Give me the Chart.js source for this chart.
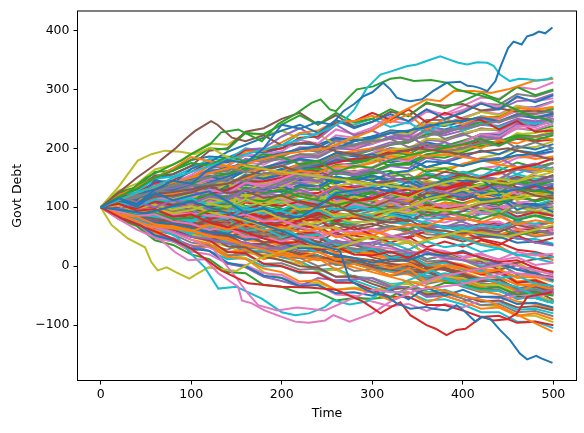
<!DOCTYPE html>
<html>
<head>
<meta charset="utf-8">
<script src="https://cdn.jsdelivr.net/npm/chart.js@4"></script>
<style>
  html, body { margin: 0; padding: 0; background: #fff; }
  canvas { display: block; }
</style>
</head>
<body>
<canvas id="chart" width="584" height="433"></canvas>
<script>
const timeGrid = [0,20,40,60,80,100,120,140,160,180,200,220,240,260,280,300,320,340,360,380,400,420,440,460,480,500];
const xTicks = [0,100,200,300,400,500];
const yTicks = [-100,0,100,200,300,400];
const palette = ['#1f77b4','#ff7f0e','#2ca02c','#d62728','#9467bd','#8c564b','#e377c2','#7f7f7f','#bcbd22','#17becf'];

// body of the fan, one row per path, values at timeGrid
const pathsA = [
  [100,113,101,124,112,120,127,110,90,99,85,83,101,124,129,133,127,144,129,148,145,147,126,130,138,123],
  [100,88,84,71,66,59,70,62,71,60,67,58,64,49,56,52,63,70,68,80,82,74,85,71,78,73],
  [100,118,131,150,162,175,171,186,178,190,185,173,179,160,170,167,180,188,195,201,207,216,205,219,214,222],
  [100,106,94,97,84,88,74,66,58,47,38,42,27,33,20,18,25,14,29,21,23,15,7,10,-3,-10],
  [100,96,108,100,112,106,118,114,130,127,139,150,143,159,155,164,152,141,133,125,119,128,136,130,142,147],
  [100,111,106,122,126,130,136,124,128,116,120,108,99,104,88,80,74,79,63,60,55,62,58,70,64,67],
  [100,92,85,88,76,72,62,66,50,48,42,51,47,60,58,64,52,44,30,26,16,22,10,15,2,6],
  [100,109,120,125,138,144,150,166,160,177,182,190,186,200,205,212,216,202,208,194,200,210,204,218,220,225],
  [100,104,92,98,90,95,106,100,114,104,110,96,100,85,90,80,92,100,114,120,130,139,148,144,158,165],
  [100,108,101,113,110,115,104,110,96,99,93,84,95,81,90,85,75,72,60,55,47,36,30,20,13,6],
  [100,90,84,74,72,65,58,55,45,49,39,30,31,18,14,6,12,10,21,18,26,14,5,-6,-12,-24],
  [100,120,134,150,166,185,178,170,160,166,155,162,158,170,168,175,186,182,196,198,205,200,214,208,219,215],
  [100,95,86,90,80,82,94,100,113,110,122,134,130,146,150,157,162,148,155,145,152,146,140,130,128,124],
  [100,106,98,110,103,108,100,110,96,106,102,110,104,118,111,116,126,120,133,130,138,150,158,166,172,183],
  [100,88,78,70,58,50,46,38,40,30,30,38,32,44,36,40,34,22,25,14,10,4,6,-5,-2,-12],
  [100,110,106,118,120,125,136,140,152,164,170,160,162,148,146,140,144,150,148,160,155,146,138,130,120,115],
  [100,104,95,98,88,90,86,82,88,76,78,66,58,52,40,33,30,24,22,12,13,20,12,24,18,21],
  [100,110,116,128,126,136,140,148,144,158,156,168,175,186,190,198,206,214,220,230,233,240,246,254,258,263],
  [100,108,98,104,96,102,92,84,78,68,64,70,74,82,86,89,96,90,100,94,99,108,112,118,124,129],
  [100,94,88,84,80,78,86,92,100,104,108,100,106,96,100,96,88,80,74,66,61,70,66,76,72,79],
  [100,112,122,130,142,148,160,168,174,186,192,198,204,200,212,217,226,230,236,244,247,252,246,256,252,259],
  [100,88,84,70,68,60,50,48,36,32,25,16,24,12,14,7,-4,4,-8,2,-3,-12,-6,-18,-14,-23],
  [100,110,100,114,104,112,122,116,132,124,130,118,112,104,110,102,92,100,86,94,87,80,90,78,86,79],
  [100,104,94,100,88,92,80,86,70,74,66,78,88,92,110,114,126,120,136,132,142,130,144,128,136,130],
  [100,112,108,122,118,128,118,126,112,124,120,130,118,134,124,130,114,106,88,86,75,64,72,56,62,55],
  [100,88,92,78,76,70,78,66,80,70,75,86,82,98,92,100,112,106,124,122,135,146,140,152,144,155],
  [100,110,104,116,108,118,130,124,142,138,148,160,152,166,160,168,182,178,198,200,210,224,220,238,236,248],
  [100,94,98,86,92,85,70,72,54,56,45,48,34,42,28,33,24,28,12,18,11,-2,4,-14,-10,-24],
  [100,94,108,98,112,105,116,108,122,112,117,108,120,106,118,112,124,116,132,124,130,120,126,112,122,115],
  [100,86,82,66,64,55,66,58,72,60,65,50,54,36,40,29,40,28,42,32,37,24,30,18,22,15]
];
const pathsB = [
  [100,114,112,128,124,134,124,126,112,120,114,104,112,96,106,99,110,96,112,100,104,90,88,70,72,59],
  [100,108,92,106,90,98,114,112,130,132,143,154,144,164,156,165,152,156,138,146,135,148,146,166,162,175],
  [100,112,106,124,114,122,106,110,90,94,80,80,64,66,46,50,36,40,20,22,10,12,-2,6,-10,-8],
  [100,90,92,78,84,75,86,80,98,88,95,110,106,126,124,135,146,140,158,150,160,152,168,156,170,165],
  [100,114,110,128,130,140,152,146,162,156,165,154,160,142,152,145,132,136,116,124,115,126,120,134,128,137],
  [100,82,70,48,42,25,34,14,30,12,20,6,14,-6,4,-5,-16,-4,-26,-14,-25,-36,-26,-44,-32,-40],
  [100,110,100,114,102,110,100,106,90,100,95,108,104,122,114,125,114,124,110,122,117,130,124,144,136,145],
  [100,92,96,84,90,80,90,78,94,82,88,76,80,58,66,53,40,50,32,42,33,44,36,52,40,48],
  [100,116,120,140,138,152,164,160,182,176,187,200,194,214,206,215,226,220,240,230,237,250,244,258,250,257],
  [100,88,90,74,78,67,64,50,58,40,45,56,40,58,44,50,36,40,20,24,12,8,-6,2,-14,-18],
  [100,110,104,118,108,116,128,124,142,134,144,126,134,110,112,104,118,114,134,126,139,128,136,122,132,129],
  [100,104,90,100,86,90,80,82,64,70,60,52,54,38,44,35,48,50,68,66,77,90,86,104,98,107],
  [100,112,108,124,120,130,124,140,126,142,135,150,146,168,166,180,190,184,200,192,198,212,206,226,220,230],
  [100,104,90,102,88,95,78,80,60,64,50,52,36,44,24,30,14,20,2,6,-5,-8,-20,-16,-30,-33],
  [100,112,106,122,116,125,136,128,142,130,135,126,132,114,122,115,126,118,132,120,127,112,116,96,104,92],
  [100,88,90,72,74,62,72,66,82,76,84,100,94,112,106,114,104,112,98,108,104,118,112,128,120,129],
  [100,116,112,132,130,142,128,134,114,122,112,124,116,132,120,127,116,124,106,114,107,116,104,120,110,117],
  [100,90,98,84,92,85,74,82,66,76,70,58,56,36,40,28,16,20,2,8,0,-14,-8,-28,-24,-35],
  [100,110,100,114,104,108,122,118,140,136,148,156,150,164,152,158,170,166,184,178,188,180,184,168,174,163],
  [100,90,92,78,82,74,70,58,64,50,56,64,58,72,62,68,80,76,92,86,93,106,110,124,122,133],
  [100,112,108,126,124,135,150,146,166,162,173,188,186,204,200,215,228,224,244,240,251,262,258,272,268,279],
  [100,92,80,76,62,56,44,46,30,32,24,14,16,2,4,-4,-16,-10,-24,-18,-26,-34,-26,-40,-32,-38],
  [100,108,104,116,110,114,106,112,100,110,106,118,112,128,120,128,112,108,94,96,86,98,90,104,94,98],
  [100,96,104,92,100,94,104,98,112,106,112,100,106,92,102,97,106,98,110,100,105,92,96,80,86,75],
  [100,110,106,122,120,130,140,136,154,148,155,146,152,140,150,145,158,162,178,176,185,196,190,204,198,207],
  [100,96,86,92,78,80,66,70,52,56,45,54,48,64,54,60,50,58,44,54,50,38,34,18,20,10],
  [100,114,118,134,140,150,160,156,172,166,172,182,174,188,178,182,170,174,160,166,157,166,162,176,168,175],
  [100,90,88,72,74,65,76,72,88,84,93,84,92,78,88,83,94,90,104,96,103,94,98,84,92,85],
  [100,108,98,110,100,105,96,100,86,92,85,98,94,112,108,120,130,124,140,134,140,152,148,164,158,168],
  [100,98,90,96,84,88,76,80,62,68,60,48,50,34,38,30,16,16,-2,-2,-15,-24,-22,-38,-34,-45]
];
const pathsC = [
  [100,108,106,118,114,122,136,132,150,146,157,164,160,176,170,177,188,184,202,196,207,218,216,234,232,242],
  [100,90,92,78,80,72,82,76,90,80,84,76,80,64,70,62,68,56,64,54,57,66,62,74,68,75],
  [100,108,100,114,104,110,118,106,120,108,112,104,112,98,110,104,114,106,122,112,119,128,118,130,120,124],
  [100,90,84,70,64,52,48,38,40,26,27,34,24,38,28,32,22,28,12,18,12,0,4,-14,-12,-26],
  [100,112,110,126,128,138,130,136,122,130,126,138,134,152,146,154,144,150,134,142,136,124,120,104,106,96],
  [100,94,96,84,90,84,96,94,110,108,116,124,120,136,128,134,146,144,164,160,174,180,176,188,182,186],
  [100,110,108,122,118,126,118,120,102,106,98,92,88,72,70,60,68,62,74,66,70,62,66,52,60,55],
  [100,98,92,100,88,92,86,92,78,88,82,94,104,114,126,132,126,130,114,120,112,122,118,132,126,134],
  [100,112,116,132,134,145,154,152,168,166,175,186,184,200,198,210,218,214,230,226,235,240,238,248,244,250],
  [100,90,88,74,76,68,56,54,36,38,28,20,16,6,4,-2,-6,-10,-10,-20,-17,-26,-24,-38,-34,-42],
  [100,108,106,116,110,118,112,120,110,118,113,122,116,126,118,125,114,116,100,104,95,104,96,108,98,103],
  [100,92,94,82,86,78,88,84,96,88,93,84,92,80,90,85,98,100,116,114,123,134,132,148,144,153],
  [100,110,112,124,124,132,142,140,154,152,160,150,152,136,142,135,142,134,146,136,140,128,130,114,120,112],
  [100,90,86,70,68,58,50,48,34,36,30,20,18,2,4,-5,-8,-6,-18,-12,-17,-26,-24,-40,-36,-47],
  [100,108,104,116,108,112,126,132,146,150,157,166,168,180,178,185,176,182,168,176,170,182,180,196,192,200],
  [100,94,96,84,88,82,80,72,78,68,72,80,76,90,84,87,76,72,58,60,52,60,54,62,52,57],
  [100,110,108,122,120,128,136,132,142,138,143,156,158,172,174,181,192,190,206,204,213,222,220,234,230,238],
  [100,106,96,108,96,98,92,94,80,84,76,70,64,54,52,46,50,48,60,54,58,46,40,28,24,16],
  [100,112,114,128,130,140,134,142,130,140,135,142,134,146,136,140,148,144,158,152,160,152,160,146,154,150],
  [100,92,90,78,78,70,78,74,86,78,82,92,90,104,98,107,100,106,94,102,99,108,104,116,112,121],
  [100,108,104,116,110,115,104,102,86,88,77,76,66,66,56,57,66,64,78,74,82,74,76,62,68,64],
  [100,84,70,52,42,30,36,28,40,30,35,26,26,10,14,7,-2,-4,-16,-14,-23,-30,-30,-42,-40,-48],
  [100,110,106,120,114,120,130,128,144,140,148,160,164,178,180,188,198,200,216,214,226,232,232,246,242,251],
  [100,96,98,88,92,88,98,100,112,108,118,112,112,98,102,96,92,88,80,84,78,88,92,102,104,113],
  [100,106,100,110,102,108,104,100,92,96,90,96,92,100,94,98,90,84,70,68,58,54,50,40,42,36],
  [100,92,90,80,80,75,64,62,48,48,37,36,28,30,20,22,14,10,2,0,-6,-14,-20,-30,-36,-46],
  [100,112,110,124,124,135,140,138,148,142,147,140,136,122,122,115,124,120,132,128,133,140,136,146,140,145],
  [100,98,94,96,88,90,98,96,108,104,112,122,124,136,134,140,148,146,156,150,155,148,146,134,132,125],
  [100,108,108,120,116,125,138,136,152,150,161,170,168,182,180,189,200,198,214,212,225,232,232,246,244,255],
  [100,90,86,74,72,62,58,50,52,40,42,34,28,18,10,2,0,-8,-4,-16,-13,-22,-26,-38,-38,-48]
];
const pathsD = [
  [100,106,98,108,98,103,110,104,114,106,111,104,108,96,102,99,94,96,84,90,84,94,100,108,110,119],
  [100,94,96,84,88,80,82,72,80,70,72,80,78,90,86,94,98,94,104,98,104,98,100,90,94,86],
  [100,110,116,128,132,142,150,148,160,156,162,158,156,146,150,147,156,160,168,166,172,184,190,200,202,212],
  [100,90,80,70,62,54,46,42,30,30,24,16,16,4,8,2,-8,-10,-22,-22,-33,-40,-42,-54,-54,-63],
  [100,108,108,118,112,118,112,108,100,98,93,102,104,118,116,125,118,114,104,104,97,104,100,108,102,107],
  [100,104,96,102,92,94,106,110,122,124,132,128,130,120,126,122,130,130,142,138,144,154,156,168,166,176],
  [100,108,112,122,122,130,140,140,154,154,162,172,174,188,188,197,206,210,224,226,237,244,246,258,258,267],
  [100,92,86,76,72,65,54,52,38,38,30,22,18,8,6,0,-8,-10,-20,-22,-30,-38,-42,-52,-54,-62],
  [100,104,100,110,104,110,118,114,126,122,128,136,136,150,146,153,148,146,136,138,133,132,126,128,120,121],
  [100,94,92,82,82,76,74,66,68,60,64,70,64,74,68,72,64,60,48,50,42,50,50,60,56,62],
  [100,110,112,126,126,138,148,150,166,166,178,186,188,200,200,208,216,218,230,230,236,244,244,254,254,258],
  [100,90,86,74,70,60,52,48,36,36,30,22,18,6,6,0,-6,-8,-18,-18,-25,-32,-36,-50,-50,-60],
  [100,106,104,114,108,114,106,100,88,90,84,84,78,82,74,76,84,86,98,98,106,112,114,124,122,128],
  [100,98,92,96,88,90,98,100,110,106,110,100,98,86,86,78,76,70,72,64,66,58,56,46,46,38],
  [100,118,130,148,156,170,176,176,188,184,190,200,202,216,212,220,226,226,236,232,240,250,254,268,270,280],
  [100,92,88,78,78,70,60,54,44,42,35,26,18,10,4,-3,-10,-14,-24,-26,-33,-42,-48,-60,-64,-73],
  [100,108,108,118,116,124,132,128,138,134,139,148,146,158,154,161,172,172,186,184,193,204,206,220,220,228],
  [100,96,96,88,90,86,90,86,94,88,91,84,86,76,82,79,84,78,86,80,81,76,72,64,62,56],
  [100,104,98,108,100,105,100,98,90,96,95,104,104,114,110,115,122,118,128,122,125,132,130,140,134,140],
  [100,94,88,84,78,75,68,64,56,58,55,46,42,32,30,25,14,8,-2,-6,-15,-22,-26,-36,-38,-45],
  [100,112,110,126,124,132,142,140,154,148,152,168,166,184,180,192,206,210,226,226,237,248,250,264,260,267],
  [100,86,84,66,66,55,42,40,24,24,15,14,0,6,-8,-5,-16,-12,-30,-24,-35,-44,-40,-56,-50,-60],
  [100,108,104,116,112,118,130,124,140,134,143,136,142,126,134,128,120,116,104,106,98,104,94,102,90,93],
  [100,96,100,88,96,92,84,86,74,82,77,90,88,106,104,112,122,120,136,134,142,150,144,156,148,152],
  [100,110,108,122,122,128,140,138,156,152,163,172,170,184,182,191,200,196,210,204,211,224,222,240,238,246],
  [100,90,90,76,80,72,62,64,48,52,44,38,36,22,28,19,12,16,-2,6,-1,-12,-6,-26,-22,-35],
  [100,110,104,114,106,110,120,114,126,116,120,110,116,102,112,110,100,110,98,108,105,116,108,122,110,117],
  [100,90,96,82,92,85,98,96,110,102,110,120,114,130,120,125,112,116,98,106,100,92,94,80,86,80],
  [100,114,116,132,130,140,152,150,166,162,170,180,172,186,176,180,196,198,216,214,222,234,230,246,240,247],
  [100,90,88,74,76,68,64,56,62,48,53,42,40,24,26,15,8,10,-8,-4,-15,-26,-24,-44,-42,-57]
];
const pathsE = [
  [100,108,98,110,98,105,118,114,130,124,130,144,142,160,156,165,180,182,202,200,210,224,226,244,242,250],
  [100,104,92,104,90,95,88,84,72,74,65,58,52,40,38,30,22,22,8,10,0,-8,-12,-28,-26,-40],
  [100,110,112,126,118,125,122,112,118,106,110,108,100,110,100,105,98,100,86,92,85,94,82,94,84,90],
  [100,92,94,82,86,80,86,80,92,84,85,94,88,100,92,97,108,110,122,120,125,134,130,142,136,140],
  [100,120,134,150,166,180,186,184,196,192,200,208,206,218,214,220,230,228,240,238,245,254,252,264,260,267],
  [100,86,72,56,46,35,34,24,28,18,20,16,10,14,6,10,2,4,-8,-4,-10,-20,-18,-32,-30,-40],
  [100,108,104,116,108,112,106,98,100,90,94,104,98,110,100,104,114,112,124,116,122,114,110,104,104,100],
  [100,94,94,84,88,82,90,86,98,92,97,90,90,78,82,77,74,72,64,68,65,72,68,78,70,75],
  [100,108,106,118,114,120,134,136,152,152,162,174,176,192,192,200,210,210,224,222,230,240,238,250,246,250],
  [100,92,92,80,80,72,70,64,68,58,62,52,48,34,36,27,16,12,-2,-6,-18,-24,-26,-38,-38,-46],
  [100,106,100,110,102,108,114,110,120,114,118,126,124,136,132,138,146,142,152,148,153,166,170,184,186,195],
  [100,98,90,96,86,88,82,76,76,66,68,74,70,82,74,78,68,64,54,52,46,52,48,58,50,54],
  [100,110,112,126,126,136,142,138,150,144,146,156,152,164,158,161,172,174,188,188,196,206,210,224,226,234],
  [100,92,86,76,72,64,66,58,66,56,59,68,64,78,72,79,86,84,94,88,94,90,94,84,90,86],
  [100,110,108,120,116,122,134,134,148,144,152,144,144,130,136,130,138,134,144,138,142,148,142,150,144,147],
  [100,98,92,98,88,90,80,72,64,56,48,44,36,34,24,23,16,16,4,8,3,-6,-6,-20,-18,-27],
  [100,108,106,116,110,115,124,124,134,130,135,144,142,152,146,150,146,148,138,144,140,136,138,128,134,130],
  [100,104,96,104,94,95,104,98,110,102,107,102,110,100,108,105,98,100,86,92,83,94,96,108,104,111],
  [100,110,112,126,126,132,146,148,164,164,172,184,186,200,200,207,220,224,240,242,252,262,266,280,282,292],
  [100,94,94,84,86,80,70,64,52,48,40,34,26,20,14,10,4,-4,-10,-16,-20,-30,-34,-48,-50,-60],
  [100,114,112,132,130,142,158,156,176,172,187,202,200,222,218,232,246,242,262,258,272,286,284,304,300,312],
  [100,110,106,124,118,130,146,144,164,164,178,190,190,206,202,213,230,228,248,248,263,276,274,292,288,298],
  [100,88,84,66,64,50,42,34,22,20,10,4,-8,-6,-20,-20,-32,-30,-46,-44,-55,-66,-68,-84,-84,-95],
  [100,92,82,74,64,60,48,44,26,26,15,8,-6,-4,-18,-20,-30,-28,-44,-40,-50,-60,-60,-74,-72,-80]
];
// paths along the upper and lower edges of the fan
const pathsF = [
  [100,118,112,146,140,165,176,194,206,218,230,240,226,248,234,245,258,246,266,250,260,276,266,288,278,290],
  [100,114,118,136,140,150,170,170,194,196,210,226,230,246,246,255,244,258,232,250,240,254,252,268,266,270],
  [100,126,134,160,162,180,200,198,226,224,240,256,240,260,244,250,266,254,278,268,280,294,282,304,290,300],
  [100,116,124,142,146,160,176,178,196,196,200,218,220,244,246,260,248,266,244,260,250,248,232,246,228,230],
  [100,110,116,130,132,140,166,170,198,200,220,234,216,240,222,230,216,222,202,210,200,220,216,242,236,250],
  [100,124,132,154,156,170,196,200,228,234,250,260,240,256,236,245,262,256,276,272,275,264,268,262,264,260],
  [100,118,116,144,142,155,172,170,188,190,195,214,208,232,224,235,254,246,266,256,265,278,270,286,280,285],
  [100,112,118,134,136,145,162,162,178,180,185,200,194,212,206,215,228,210,234,216,225,212,218,200,210,200],
  [100,128,140,164,172,190,208,206,226,222,230,216,224,206,220,210,228,224,244,240,250,262,256,272,264,270],
  [100,120,126,148,152,165,182,180,200,196,205,224,224,244,240,250,236,244,226,242,230,242,236,246,242,245],
  [100,82,74,52,44,30,26,6,0,-16,-20,-34,-32,-46,-44,-50,-40,-56,-36,-50,-40,-52,-52,-64,-62,-70],
  [100,84,82,60,58,45,38,16,12,-4,-10,-26,-24,-40,-38,-45,-58,-44,-62,-50,-60,-72,-70,-84,-80,-90],
  [100,80,68,44,36,20,12,-10,-12,-32,-35,-46,-44,-58,-54,-55,-52,-36,-40,-28,-30,-38,-36,-48,-44,-50],
  [100,88,84,64,62,50,44,24,22,4,0,-10,-12,-28,-28,-40,-52,-52,-66,-66,-75,-86,-84,-96,-94,-100],
  [100,84,74,52,48,35,26,4,-2,-18,-25,-34,-20,-24,-22,-20,-34,-36,-52,-50,-60,-52,-54,-42,-46,-40],
  [100,90,86,72,70,60,52,34,32,16,10,0,-2,-18,-18,-30,-40,-36,-48,-44,-50,-60,-58,-70,-68,-75],
  [100,84,72,48,42,25,20,4,2,-12,-15,-30,-32,-48,-50,-60,-68,-64,-76,-64,-70,-58,-60,-48,-52,-45],
  [100,86,78,60,54,40,36,18,20,4,5,-6,-4,-18,-16,-25,-36,-36,-50,-46,-55,-66,-64,-78,-76,-85],
  [100,88,84,68,66,55,44,20,14,-10,-20,-30,-28,-40,-36,-40,-38,-26,-28,-18,-20,-32,-32,-48,-48,-60],
  [100,82,76,52,46,30,26,12,14,0,0,-12,-10,-26,-24,-35,-44,-44,-58,-56,-65,-78,-78,-94,-94,-105],
  [100,108,116,122,130,130,142,152,162,168,175,182,178,192,186,190,182,180,168,176,170,178,182,188,190,195],
  [100,112,110,126,122,125,136,140,150,156,160,174,178,190,196,200,196,192,186,190,185,180,172,168,164,160],
  [100,114,120,132,134,140,152,156,166,164,170,162,166,156,162,160,172,176,190,194,200,208,212,222,220,225],
  [100,106,102,112,108,110,122,130,142,144,150,160,168,176,182,185,194,196,204,200,205,212,208,216,212,215],
  [100,92,84,76,66,60,54,44,40,32,30,36,34,42,38,40,50,56,64,68,70,62,54,48,40,35],
  [100,94,84,82,74,70,58,50,36,30,20,18,12,16,8,10,4,0,-6,-4,-10,-4,2,6,12,15]
];

// the paths that stand out, read at their own time points
const blueTopT = [0,20,40,60,80,100,120,140,160,180,200,220,240,255,268,280,290,300,312,320,327,335,342,355,367,382,397,405,412,419,427,436,441,450,456,465,471,478,484,491,499];
const blueTopV = [100,115,105,130,145,140,165,180,175,200,240,233,245,240,263,275,288,295,311,300,286,282,280,283,297,311,313,306,305,302,297,314,336,370,381,376,390,393,398,395,405];
const cyanTopT = [0,20,40,60,80,100,120,140,160,180,200,220,240,255,268,280,294,309,320,338,349,360,375,386,395,405,416,427,434,441,452,462,471,482,493,499];
const cyanTopV = [100,112,125,135,150,160,170,180,190,198,205,215,225,236,246,265,302,325,330,339,342,348,356,350,345,342,346,345,340,325,314,318,317,315,317,320];
const greenTopT = [0,15,30,50,70,90,100,121,133,152,165,178,196,215,233,243,253,260,270,283,301,320,331,346,365,383,393,405,416,430,445,460,475,490,499];
const greenTopV = [100,112,125,150,165,180,190,207,227,232,222,212,241,258,277,283,266,263,280,300,305,318,320,314,316,311,300,295,291,285,275,265,255,250,245];
const brownTopT = [0,20,40,60,82,93,104,122,129,145,160,180,200,230,260,300,350,400,450,500];
const brownTopV = [100,125,150,172,199,215,229,246,240,218,212,222,205,210,195,185,200,190,200,180];
const oliveTopT = [0,20,41,56,71,88,104,121,140,160,200,250,300,350,400,450,500];
const oliveTopV = [100,135,179,190,196,194,190,201,185,170,160,150,140,130,150,140,160];
const orangeTopT = [0,50,100,150,200,250,300,330,360,375,390,412,431,450,478,500];
const orangeTopV = [100,130,150,170,190,200,230,260,283,280,297,297,294,300,314,318];
const oliveLowT = [0,12,30,49,56,63,73,83,98,104,119,135,150,170,190,220,260,300,350,400,450,500];
const oliveLowV = [100,70,47,32,7,-7,-2,-10,-21,-15,-2,-5,-8,10,20,35,30,50,40,60,50,70];
const pinkLowT = [0,20,40,67,82,97,115,130,152,156,167,181,200,215,230,248,257,275,300,320,350,400,450,500];
const pinkLowV = [100,80,62,44,24,10,12,-12,-35,-58,-63,-75,-86,-94,-96,-92,-83,-94,-80,-60,-40,-30,-10,-20];
const pink2T = [0,25,50,75,100,125,150,162,174,195,217,248,270,300,330,370,400,450,500];
const pink2V = [100,85,70,60,45,28,-20,-45,-66,-75,-70,-75,-60,-40,-45,-20,-10,5,-15];
const cyanLowT = [0,25,50,70,85,100,115,130,150,178,200,215,230,248,257,275,294,310,330,367,380,393,420,460,494,500];
const cyanLowV = [100,85,72,60,49,21,-2,-38,-35,-55,-78,-83,-80,-69,-58,-65,-60,-45,-30,-7,-20,-27,-20,-35,-61,-58];
const redLowT = [0,25,50,75,100,133,163,200,230,260,290,309,320,331,342,360,370,382,393,403,421,434,449,460,471,485,499];
const redLowV = [100,80,65,50,30,-7,-29,-35,-36,-40,-60,-80,-70,-61,-83,-100,-106,-117,-108,-106,-86,-92,-90,-80,-52,-48,-44];
const blueLowT = [0,50,100,150,200,230,264,275,294,317,327,342,359,367,383,393,401,414,421,430,441,452,463,471,481,486,499];
const blueLowV = [100,90,110,85,60,40,27,-24,-41,-52,-63,-72,-69,-72,-75,-66,-75,-94,-86,-89,-108,-125,-148,-158,-152,-156,-164];
const orangeLowT = [0,50,100,150,200,250,300,350,400,430,450,476,490,499];
const orangeLowV = [100,70,60,40,20,10,-10,-30,-50,-60,-75,-94,-104,-111];

const toPts = (t, v) => v.map((y, i) => ({ x: t[i], y: y }));
const lineSet = (pts, color) => ({
    data: pts,
    borderColor: color,
    borderWidth: 2,
    pointRadius: 0,
    tension: 0,
    fill: false
});

// first datasets are drawn last, so the stand-out paths go first
const outliers = [
    [blueTopT, blueTopV, palette[0]],
    [cyanTopT, cyanTopV, palette[9]],
    [blueLowT, blueLowV, palette[0]],
    [redLowT, redLowV, palette[3]],
    [greenTopT, greenTopV, palette[2]],
    [orangeTopT, orangeTopV, palette[1]],
    [orangeLowT, orangeLowV, palette[1]],
    [pinkLowT, pinkLowV, palette[6]],
    [pink2T, pink2V, palette[6]],
    [cyanLowT, cyanLowV, palette[9]],
    [brownTopT, brownTopV, palette[5]],
    [oliveTopT, oliveTopV, palette[8]],
    [oliveLowT, oliveLowV, palette[8]]
];
const bodyPaths = pathsA.concat(pathsF, pathsB, pathsC, pathsD, pathsE);

const datasets = outliers.map(([t, v, c]) => lineSet(toPts(t, v), c))
    .concat(bodyPaths.map((v, i) => lineSet(toPts(timeGrid, v), palette[i % palette.length])));

// matplotlib style box around the plot
const frame = {
    id: 'frame',
    afterDraw(chart) {
        const { ctx, chartArea: a } = chart;
        ctx.save();
        ctx.strokeStyle = '#000';
        ctx.lineWidth = 1;
        ctx.strokeRect(a.left - 0.5, a.top - 0.5, a.right - a.left + 1, a.bottom - a.top + 1);
        ctx.restore();
    }
};

const tickFont = { family: 'DejaVu Sans', size: 12.5 };
const minusSign = v => String(v).replace('-', '\u2212');

new Chart(document.getElementById('chart').getContext('2d'), {
    type: 'line',
    data: { datasets: datasets },
    options: {
        responsive: false,
        animation: false,
        events: [],
        layout: { padding: { left: 0, top: 10, right: 8, bottom: 0 } },
        plugins: { legend: { display: false }, tooltip: { enabled: false } },
        scales: {
            x: {
                type: 'linear',
                min: -25,
                max: 525,
                afterBuildTicks: s => { s.ticks = xTicks.map(v => ({ value: v })); },
                afterFit: s => { s.height = 53; },
                grid: { drawOnChartArea: false, tickLength: 4.5, tickColor: '#000' },
                border: { display: false },
                ticks: { color: '#000', font: tickFont, padding: 3, maxRotation: 0, callback: minusSign },
                title: { display: true, text: 'Time', color: '#000', font: tickFont, padding: { top: 0, bottom: 12 } }
            },
            y: {
                type: 'linear',
                min: -193,
                max: 432,
                afterBuildTicks: s => { s.ticks = yTicks.map(v => ({ value: v })); },
                afterFit: s => { s.width = 78; },
                grid: { drawOnChartArea: false, tickLength: 4.5, tickColor: '#000' },
                border: { display: false },
                ticks: { color: '#000', font: tickFont, padding: 4, callback: minusSign },
                title: { display: true, text: 'Govt Debt', color: '#000', font: tickFont, padding: { top: 10, bottom: 10 } }
            }
        }
    },
    plugins: [frame]
});
</script>
</body>
</html>
